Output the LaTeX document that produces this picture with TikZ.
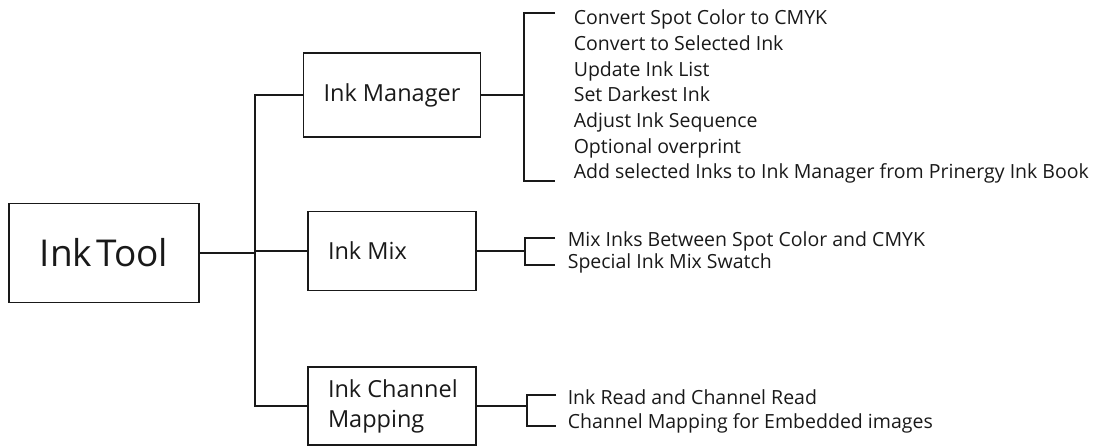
\documentclass[tikz,border=0pt]{standalone}
\usepackage{fontspec}
\setmainfont{Open Sans}
\usetikzlibrary{positioning}

\tikzset{
    box/.style={draw, rectangle, line width=1.6pt, inner ysep=0pt, inner xsep=20pt},
    boxtext/.style={font=\fontsize{23.5}{30}\selectfont},
    item/.style={anchor=base west, inner sep=0pt, font=\fontsize{19.5}{22}\selectfont},
}

\begin{document}
\begin{tikzpicture}[x=1pt, y=-1pt, line width=1.6pt, black!90]
        \useasboundingbox (0,0) rectangle (1096,446);

        % Nodes
        \node (tool) [box, minimum width=190pt, minimum height=99pt, font=\fontsize{37}{44}\selectfont] at (104,253) {Ink\hspace{0.1em}Tool};
        \node (mgr) [box, boxtext, minimum width=168pt, minimum height=84pt] at (392,95) {Ink Manager};
        \node (mix) [box, boxtext, minimum height=79pt, text width=128pt, align=flush left] at (392,251) {Ink Mix};
        \node (chan) [box, boxtext, minimum height=78pt, text width=128pt, align=flush left] at (392,406) {\mbox{Ink Channel}\\Mapping};

        \node (m1) [item] at (573,25) {Convert Spot Color to CMYK};
        \node (m2) [item] at (573,50.7) {Convert to Selected Ink};
        \node (m3) [item] at (573,76.3) {Update Ink List};
        \node (m4) [item] at (573,102) {Set Darkest Ink};
        \node (m5) [item] at (573,127.7) {Adjust Ink Sequence};
        \node (m6) [item] at (573,153.3) {Optional overprint};
        \node (m7) [item] at (573,179) {Add selected Inks to Ink Manager from Prinergy Ink Book};

        \node (x1) [item] at (567,247) {Mix Inks Between Spot Color and CMYK};
        \node (x2) [item] at (567,269) {Special Ink Mix Swatch};

        \node (c1) [item] at (567,405) {Ink Read and Channel Read};
        \node (c2) [item] at (567,429) {Channel Mapping for Embedded images};

        \coordinate (trunk) at (255,252);
        \coordinate (mgrbr) at (524,95);
        \coordinate (mgrtop) at (555,13);
        \coordinate (mgrbot) at (555,181);
        \coordinate (mixbr) at (525,251);
        \coordinate (mixtop) at (555,238);
        \coordinate (mixbot) at (555,265);
        \coordinate (chanbr) at (527,406);
        \coordinate (chantop) at (556,395);
        \coordinate (chanbot) at (556,426);

        % Edges
        \draw (tool.east) -- (tool.east -| trunk);
        \draw (mgr.west) -| (trunk) |- (chan.west);
        \draw (mix.west) -- (mix.west -| trunk);

        \draw (mgr.east) -- (mgrbr);
        \draw (mgrtop) -| (mgrbr) |- (mgrbot);

        \draw (mix.east) -- (mixbr);
        \draw (mixtop) -| (mixbr) |- (mixbot);

        \draw (chan.east) -- (chanbr);
        \draw (chantop) -| (chanbr) |- (chanbot);
    \end{tikzpicture}
\end{document}
